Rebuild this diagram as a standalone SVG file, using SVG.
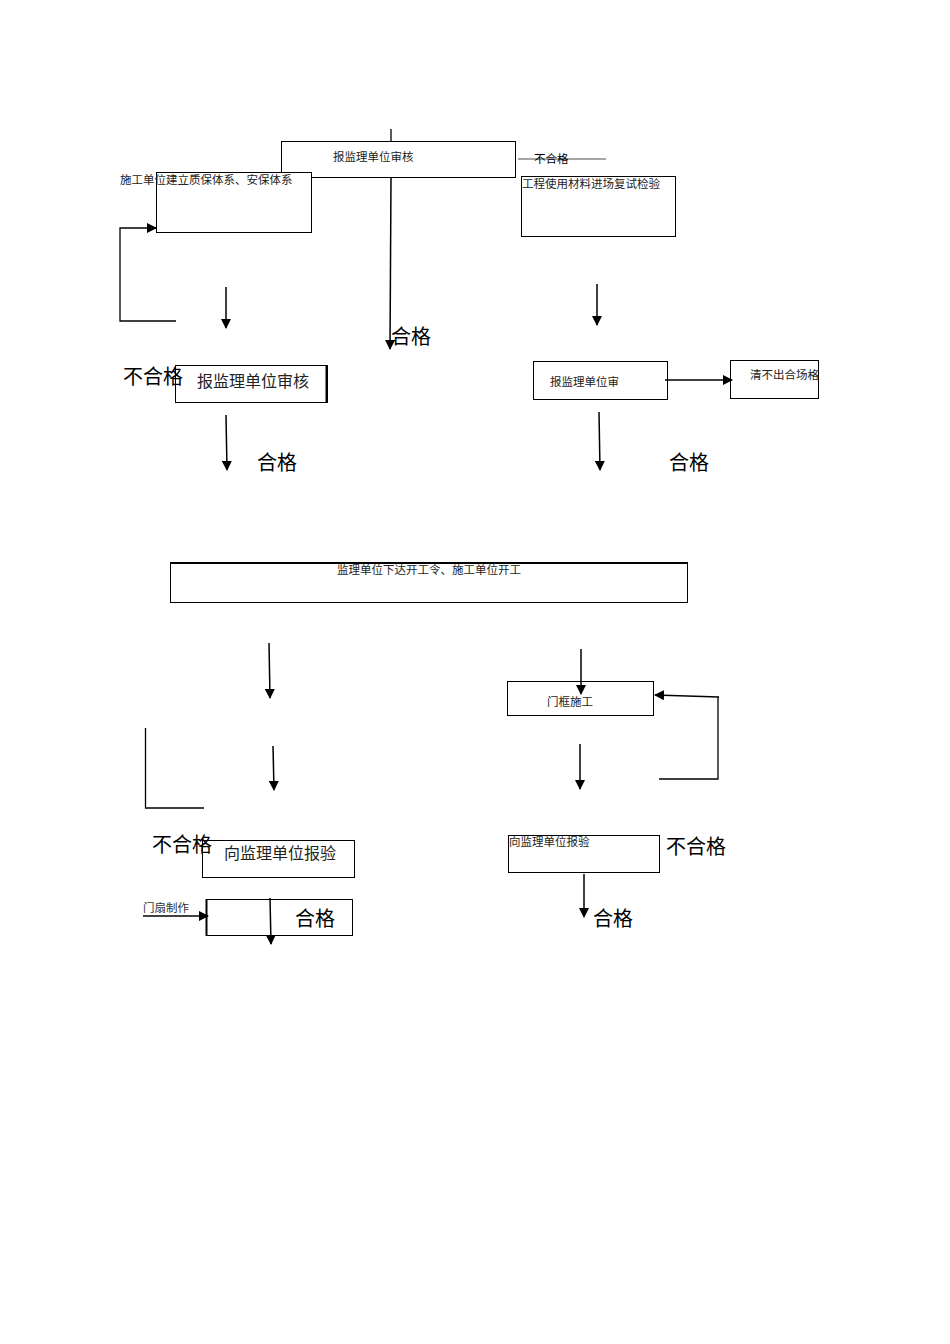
<svg xmlns="http://www.w3.org/2000/svg" width="950" height="1344" viewBox="0 0 950 1344">
<style>
.box{fill:#fff;stroke:#000;stroke-width:1}
.s{font-family:"Liberation Serif","Noto Sans CJK SC",serif;font-size:11.5px;fill:#222}
.m{font-family:"Liberation Serif","Noto Sans CJK SC",serif;font-size:16px;fill:#222}
.b{font-family:"Liberation Sans","Noto Sans CJK SC",sans-serif;font-size:20px;fill:#000}
.ln{fill:none;stroke:#000;stroke-width:1.3}
.ar{fill:none;stroke:#000;stroke-width:1.5;marker-end:url(#ah)}
</style>
<defs>
<marker id="ah" markerWidth="10" markerHeight="10" refX="9" refY="5" orient="auto" markerUnits="userSpaceOnUse">
<path d="M0,0 L10,5 L0,10 Z" fill="#000"/>
</marker>
</defs>
<rect width="950" height="1344" fill="#fff"/>

<g id="nA"><rect class="box" x="281.5" y="141.5" width="234" height="36"/><text class="s" x="333" y="161">报监理单位审核</text></g>
<g id="nB"><rect class="box" x="156.5" y="172.5" width="155" height="60"/><text class="s" x="120" y="184">施工单位建立质保体系、安保体系</text></g>
<g id="nC"><rect class="box" x="521.5" y="176.5" width="154" height="60"/><text class="s" x="522" y="188">工程使用材料进场复试检验</text></g>
<g id="nD"><rect class="box" x="175.5" y="365.5" width="152" height="37"/><line x1="326.5" y1="365" x2="326.5" y2="403" stroke="#000" stroke-width="2"/><text class="m" x="197" y="387">报监理单位审核</text></g>
<g id="nE"><rect class="box" x="533.5" y="361.5" width="134" height="38"/><text class="s" x="550" y="386">报监理单位审</text></g>
<g id="nF"><rect class="box" x="730.5" y="360.5" width="88" height="38"/><text class="s" x="750" y="379">清不出合场格</text></g>
<g id="nG"><rect class="box" x="170.5" y="562.5" width="517" height="40"/><line x1="170" y1="563" x2="688" y2="563" stroke="#000" stroke-width="2"/><text class="s" x="429" y="574" text-anchor="middle">监理单位下达开工令、施工单位开工</text></g>
<g id="nH"><rect class="box" x="202.5" y="840.5" width="152" height="37"/><text class="m" x="224" y="859">向监理单位报验</text></g>
<g id="nI"><rect class="box" x="206.5" y="899.5" width="146" height="36"/><line x1="206.5" y1="899" x2="206.5" y2="936" stroke="#000" stroke-width="2"/></g>
<g id="nJ"><rect class="box" x="507.5" y="681.5" width="146" height="34"/><text class="s" x="547" y="706">门框施工</text></g>
<g id="nK"><rect class="box" x="508.5" y="835.5" width="151" height="37"/><text class="s" x="509" y="846">向监理单位报验</text></g>

<g id="connectors">
<line class="ln" x1="391" y1="129" x2="391" y2="141"/>
<line class="ar" x1="391" y1="178" x2="390" y2="349"/>
<line x1="518" y1="159" x2="606" y2="159" stroke="#888" stroke-width="1.3"/>
<polyline class="ln" points="176,321 120,321 120,228"/>
<line class="ar" x1="119.5" y1="228" x2="156" y2="228"/>
<line class="ar" x1="226" y1="287" x2="226" y2="328"/>
<line class="ar" x1="226" y1="415" x2="227" y2="470"/>
<line class="ar" x1="597" y1="284" x2="597" y2="325"/>
<line class="ar" x1="665" y1="380" x2="732" y2="380"/>
<line class="ar" x1="599" y1="412" x2="600" y2="470"/>
<line class="ar" x1="269" y1="643" x2="270" y2="698"/>
<line class="ar" x1="273" y1="746" x2="274" y2="790"/>
<polyline class="ln" points="145.5,728 145.5,808 204,808"/>
<line class="ar" x1="143" y1="916" x2="208" y2="916"/>
<line class="ar" x1="270" y1="898" x2="271" y2="944"/>
<line class="ar" x1="581" y1="649" x2="581" y2="694"/>
<polyline class="ln" points="659,779 718,779 718,697"/>
<line class="ar" x1="719" y1="697" x2="655" y2="695"/>
<line class="ar" x1="580" y1="744" x2="580" y2="789"/>
<line class="ar" x1="584" y1="874" x2="584" y2="917"/>
</g>

<g id="labels">
<text x="534" y="163" font-family="Liberation Sans,Noto Sans CJK SC,sans-serif" font-size="11.5" fill="#000">不合格</text>
<text class="b" x="391" y="344">合格</text>
<text class="b" x="123" y="384">不合格</text>
<text class="b" x="257" y="470">合格</text>
<text class="b" x="669" y="470">合格</text>
<text class="b" x="152" y="852">不合格</text>
<text x="143" y="912" font-family="Liberation Sans,Noto Sans CJK SC,sans-serif" font-size="11.5" fill="#333">门扇制作</text>
<text class="b" x="295" y="926">合格</text>
<text class="b" x="666" y="854">不合格</text>
<text class="b" x="593" y="926">合格</text>
</g>
</svg>
